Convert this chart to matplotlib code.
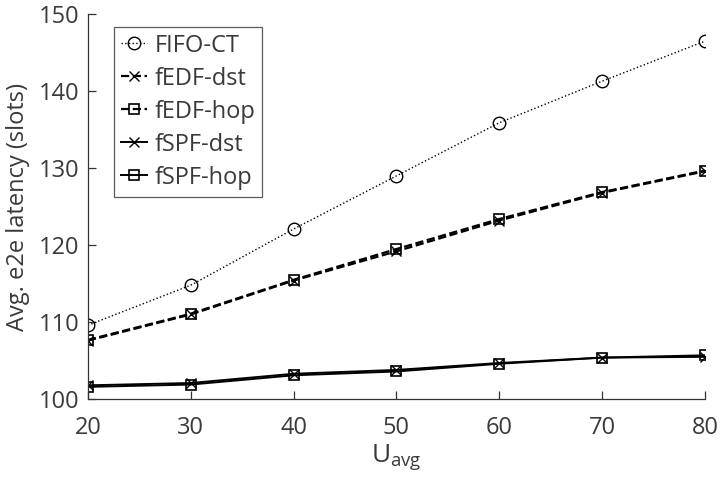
import matplotlib.pyplot as plt

plt.rcParams['font.family'] = ['Open Sans', 'DejaVu Sans']

u_avg = [20, 30, 40, 50, 60, 70, 80]
fifo_ct = [109.6, 114.8, 122.1, 129.0, 135.9, 141.3, 146.5]
fedf_dst = [107.6, 111.0, 115.4, 119.2, 123.2, 126.8, 129.6]
fedf_hop = [107.7, 111.1, 115.5, 119.5, 123.4, 126.9, 129.7]
fspf_dst = [101.8, 102.1, 103.3, 103.8, 104.7, 105.4, 105.5]
fspf_hop = [101.6, 101.9, 103.1, 103.6, 104.6, 105.4, 105.7]

txt = '#3a3a3a'

fig = plt.figure(figsize=(7.2, 4.91), dpi=100)
ax = fig.add_axes([0.122, 0.187, 0.857, 0.784])

ax.plot(u_avg, fifo_ct, linestyle=':', color='k', lw=1.0, marker='o',
        markersize=9, markerfacecolor='none', markeredgewidth=1.0, label='FIFO-CT')
ax.plot(u_avg, fedf_dst, linestyle='--', color='k', lw=1.6, marker='x',
        markersize=7, markeredgewidth=1.0, label='fEDF-dst')
ax.plot(u_avg, fedf_hop, linestyle='--', color='k', lw=1.6, marker='s',
        markersize=7, markerfacecolor='none', markeredgewidth=1.2, label='fEDF-hop')
ax.plot(u_avg, fspf_dst, linestyle='-', color='k', lw=1.4, marker='x',
        markersize=7, markeredgewidth=1.0, label='fSPF-dst')
ax.plot(u_avg, fspf_hop, linestyle='-', color='k', lw=1.4, marker='s',
        markersize=7, markerfacecolor='none', markeredgewidth=1.2, label='fSPF-hop')

ax.set_xlim(20, 80)
ax.set_ylim(100, 150)
ax.set_xticks(u_avg)
ax.set_yticks([100, 110, 120, 130, 140, 150])

for s in ['top', 'right']:
    ax.spines[s].set_visible(False)
for s in ['left', 'bottom']:
    ax.spines[s].set_color('#333333')
    ax.spines[s].set_linewidth(0.9)

ax.tick_params(direction='in', length=6, width=0.9, colors='#333333',
               labelsize=17, labelcolor=txt)
ax.tick_params(axis='x', pad=12)
ax.tick_params(axis='y', pad=6)

ax.set_xlabel(r'U$_{\mathregular{avg}}$', fontsize=19, color=txt, labelpad=2)
ax.set_ylabel('Avg. e2e latency (slots)', fontsize=17, color=txt, labelpad=6)

leg = ax.legend(loc='upper left', bbox_to_anchor=(0.035, 0.98), fontsize=17,
                frameon=True, fancybox=False, handlelength=1.1, handletextpad=0.3,
                labelspacing=0.38, borderpad=0.3, borderaxespad=0.2)
leg.get_frame().set_edgecolor('#333333')
leg.get_frame().set_linewidth(0.9)
for t in leg.get_texts():
    t.set_color(txt)

plt.savefig("out.png")
